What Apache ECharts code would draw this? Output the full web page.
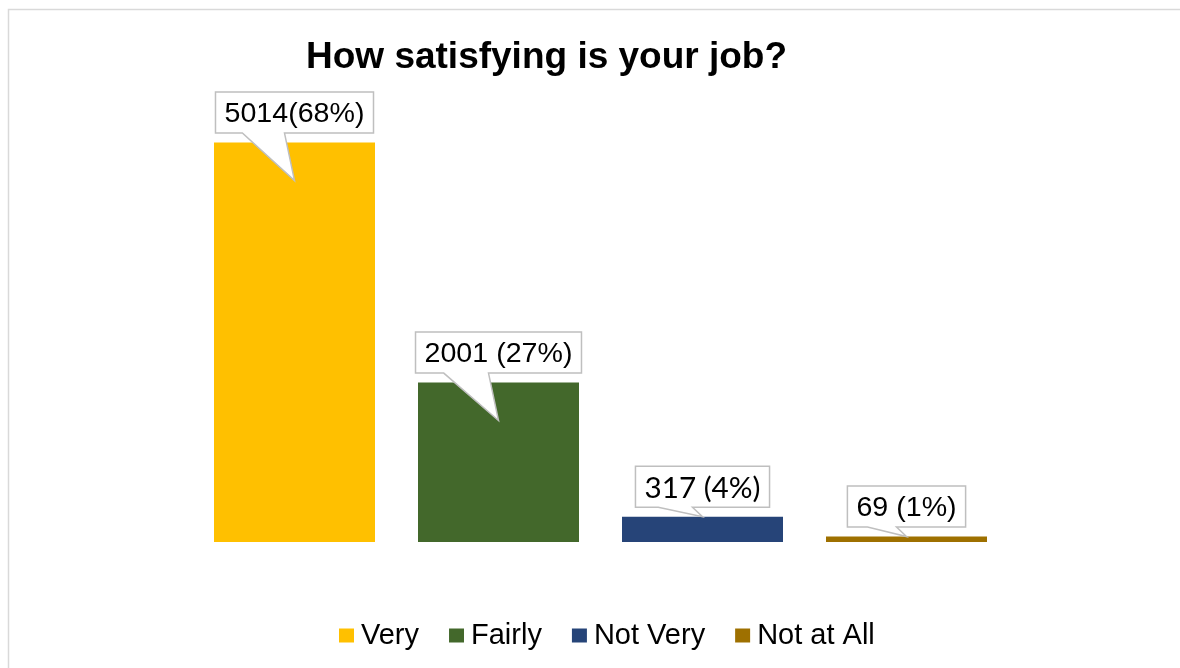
<!DOCTYPE html>
<html>
<head>
<meta charset="utf-8">
<script src="https://cdn.jsdelivr.net/npm/echarts@6/dist/echarts.min.js"></script>
<style>
  html, body { margin: 0; padding: 0; background: #fff; overflow: hidden; }
  #chart { width: 1180px; height: 668px; }
</style>
</head>
<body>
<div id="chart"></div>
<script>
// ---- data ----
const categories = ["Very", "Fairly", "Not Very", "Not at All"];
const counts = [5014, 2001, 317, 69];
const calloutLabels = ["5014(68%)", "2001 (27%)", "317 (4%)", "69 (1%)"];
const colors = ["#FFC000", "#43682B", "#264478", "#9E7000"];

// ---- helpers (styles) ----
const ARIAL = '27px "Liberation Sans", Arial, sans-serif';
const CALIBRI_LIKE = '28px Lato, "Liberation Sans", sans-serif';
const labelFonts = [ARIAL, ARIAL, CALIBRI_LIKE, ARIAL];
const SX = 1.06;
const mctx = document.createElement('canvas').getContext('2d');
function textWidth(t, font) { mctx.font = font; return mctx.measureText(t).width; }

const chart = echarts.init(document.getElementById('chart'), null, { renderer: 'canvas' });

const barSeries = categories.map((name, i) => ({
  name: name,
  type: 'bar',
  stack: 'all',
  barWidth: 161,
  itemStyle: { color: colors[i] },
  data: counts.map((v, j) => (j === i ? v : '-'))
}));

const calloutSeries = {
  type: 'custom',
  coordinateSystem: 'cartesian2d',
  z: 10,
  silent: true,
  data: counts.map((v, i) => [i, v]),
  renderItem: function (params, api) {
    const i = api.value(0), v = api.value(1);
    const top = api.coord([i, v]);
    const base = api.coord([i, 0]);
    const cx = top[0], ty = top[1];
    const h = base[1] - ty;
    const text = calloutLabels[i];
    const font = labelFonts[i];
    const tw = textWidth(text, font) * SX;
    const boxW = tw + 18, boxH = 41;
    const L = cx - boxW / 2, R = cx + boxW / 2;
    const B = ty - 9.5, T = B - boxH;
    const tipY = h > 100 ? ty + 38 : ty;
    const bl = L + boxW * 0.17, br = cx - 10;
    return {
      type: 'group',
      children: [
        {
          type: 'polygon',
          shape: { points: [[L, T], [R, T], [R, B], [br, B], [cx, tipY], [bl, B], [L, B]] },
          style: { fill: '#ffffff', stroke: '#BFBFBF', lineWidth: 1.5 }
        },
        {
          type: 'text',
          x: cx, y: (T + B) / 2 + 2,
          scaleX: SX, scaleY: 1,
          style: { text: text, font: font, fill: '#000', align: 'center', verticalAlign: 'middle' }
        }
      ]
    };
  }
};

chart.setOption({
  animation: false,
  backgroundColor: '#ffffff',
  graphic: [{
    type: 'rect',
    shape: { x: 8.5, y: 9.5, width: 1300, height: 800 },
    style: { fill: 'none', stroke: '#D9D9D9', lineWidth: 1.5 },
    z: -10
  }],
  title: {
    text: 'How satisfying is your job?',
    left: 306,
    top: 39,
    padding: 0,
    textStyle: { fontFamily: '"Liberation Sans", Arial, sans-serif', fontWeight: 'bold', fontSize: 37, color: '#000' }
  },
  legend: {
    data: categories,
    left: 339,
    top: 621,
    padding: 0,
    icon: 'rect',
    itemWidth: 15,
    itemHeight: 14,
    itemGap: 30,
    textStyle: { fontFamily: '"Liberation Sans", Arial, sans-serif', fontSize: 29, color: '#000', padding: [0, 0, 0, 2] }
  },
  grid: { left: 192.5, right: 171.5, top: 64, bottom: 126, containLabel: false },
  xAxis: {
    type: 'category',
    data: categories,
    axisLine: { show: false },
    axisTick: { show: false },
    axisLabel: { show: false },
    splitLine: { show: false }
  },
  yAxis: {
    type: 'value',
    min: 0,
    max: 6000,
    show: false,
    splitLine: { show: false }
  },
  series: barSeries.concat([calloutSeries])
});
</script>
</body>
</html>
